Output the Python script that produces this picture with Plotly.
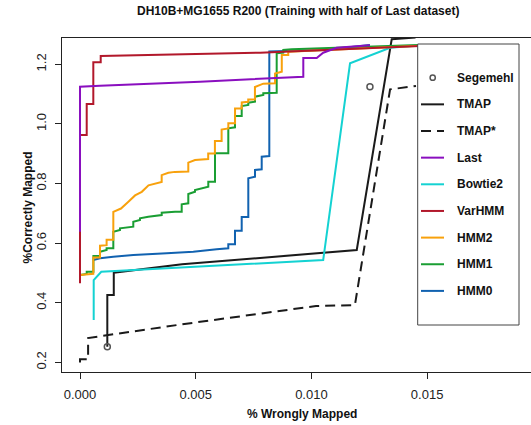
import plotly.graph_objects as go

# ---------------- data ----------------
seg_x = [0.00118, 0.01253]
seg_y = [0.2523, 1.1248]

tmap_x = [0.00118, 0.00118, 0.00146, 0.00146, 0.00441, 0.01196, 0.01347, 0.01450]
tmap_y = [0.2523, 0.4258, 0.4258, 0.5007, 0.5289, 0.5768, 1.284, 1.290]

tmaps_x = [0.0, 0.0, 0.00035, 0.00035, 0.00441, 0.00756, 0.0102, 0.01188, 0.0134, 0.01452]
tmaps_y = [0.199, 0.210, 0.210, 0.2815, 0.3275, 0.361, 0.389, 0.392, 1.116, 1.127]

last_x = [0.0, 0.0, 0.000864, 0.00519, 0.00965, 0.00965, 0.01023, 0.01051, 0.01109, 0.01253]
last_y = [0.638, 1.1248, 1.1282, 1.1416, 1.1584, 1.2211, 1.2211, 1.2389, 1.2557, 1.2638]

bowtie_x = [0.000592, 0.000592, 0.00092, 0.00432, 0.01051, 0.01167, 0.0134, 0.01433]
bowtie_y = [0.342, 0.476, 0.504, 0.5188, 0.5433, 1.2034, 1.2557, 1.2614]

var_x = [0.0, 0.0, 0.00029, 0.00029, 0.000575, 0.000575, 0.000895, 0.000895, 0.00778, 0.0147]
var_y = [0.465, 0.963, 0.963, 1.067, 1.067, 1.2067, 1.2067, 1.2279, 1.239, 1.2614]

hmm2_x = [0.0, 0.000575, 0.000575, 0.000864, 0.000864, 0.00115, 0.00115, 0.00144, 0.00144,
          0.00177, 0.00208, 0.00238, 0.00267, 0.00296, 0.00353, 0.00353, 0.00382, 0.00410,
          0.00468, 0.00468, 0.00497, 0.00554, 0.00554, 0.00583, 0.00583, 0.00612, 0.00612,
          0.00641, 0.00641, 0.00670, 0.00670, 0.00699, 0.00699, 0.00727, 0.00727, 0.00756,
          0.00756, 0.00792, 0.00843, 0.00843, 0.00872, 0.00872, 0.00900, 0.00900, 0.0147]
hmm2_y = [0.493, 0.497, 0.552, 0.552, 0.591, 0.593, 0.611, 0.611, 0.705,
          0.716, 0.738, 0.760, 0.772, 0.794, 0.805, 0.828, 0.836, 0.839,
          0.840, 0.870, 0.879, 0.882, 0.901, 0.901, 0.943, 0.943, 0.981,
          0.985, 1.002, 1.002, 1.052, 1.052, 1.072, 1.074, 1.082, 1.082,
          1.124, 1.135, 1.136, 1.169, 1.175, 1.231, 1.231, 1.242, 1.262]

hmm1_x = [0.0, 0.00029, 0.00029, 0.00058, 0.00058, 0.000864, 0.000864, 0.00115, 0.00115,
          0.00144, 0.00144, 0.001729, 0.001729, 0.002303, 0.002303, 0.002593, 0.002593,
          0.002952, 0.003531, 0.003531, 0.004105, 0.004395, 0.004395, 0.00468, 0.00468,
          0.00497, 0.00497, 0.005259, 0.005544, 0.005544, 0.005834, 0.005834, 0.006409,
          0.006409, 0.006698, 0.006698, 0.006988, 0.006988, 0.007273, 0.007273, 0.007563,
          0.007563, 0.007921, 0.007921, 0.0085, 0.0085, 0.008786, 0.008786, 0.009149, 0.01461]
hmm1_y = [0.493, 0.4963, 0.504, 0.504, 0.5567, 0.5567, 0.571, 0.577, 0.5826,
          0.5826, 0.6383, 0.644, 0.6497, 0.655, 0.6718, 0.6775, 0.6832,
          0.6886, 0.6943, 0.702, 0.7054, 0.7054, 0.7302, 0.7336, 0.7648,
          0.7725, 0.7782, 0.7839, 0.7893, 0.806, 0.806, 0.9013, 0.9013,
          0.9852, 0.9886, 1.0265, 1.0265, 1.06, 1.0634, 1.0711, 1.0745,
          1.0913, 1.097, 1.1027, 1.1047, 1.2369, 1.2389, 1.248, 1.2503, 1.265]

hmm0_x = [0.000575, 0.000864, 0.001439, 0.002303, 0.003747, 0.004896, 0.005907, 0.006409,
          0.006409, 0.006698, 0.006698, 0.006988, 0.006988, 0.007273, 0.007273, 0.007563,
          0.007563, 0.007852, 0.007852, 0.008181, 0.008181, 0.00994, 0.01051, 0.01253]
hmm0_y = [0.5433, 0.549, 0.5544, 0.56, 0.5658, 0.5711, 0.5792, 0.5826,
          0.596, 0.596, 0.6413, 0.6413, 0.6876, 0.6876, 0.8174, 0.8228,
          0.8453, 0.8477, 0.89, 0.8923, 1.243, 1.248, 1.248, 1.265]

x_ticks = [0.0, 0.005, 0.010, 0.015]
y_ticks = [0.2, 0.4, 0.6, 0.8, 1.0, 1.2]

legend_names = ["Segemehl", "TMAP", "TMAP*", "Last", "Bowtie2", "VarHMM", "HMM2", "HMM1", "HMM0"]

# ---------------- styles ----------------
C_BLACK = "#1a1a1a"
C_LAST = "#8a0fbf"
C_BOWTIE = "#14d2d2"
C_VAR = "#b2182b"
C_HMM2 = "#f8a10c"
C_HMM1 = "#1a9e33"
C_HMM0 = "#1162b0"
C_SEG = "#555555"
DASH = "10px,6px"
FONT = "Liberation Sans, Arial, sans-serif"

W, H = 531, 425
L, R, T, B = 62, 0, 38, 53
PW, PH = W - L - R, H - T - B

fig = go.Figure()

def add_line(x, y, color, dash="solid", width=2):
    fig.add_trace(go.Scatter(x=x, y=y, mode="lines", showlegend=False, hoverinfo="skip",
                             line=dict(color=color, width=width, dash=dash)))

add_line(tmaps_x, tmaps_y, C_BLACK, DASH)
add_line(tmap_x, tmap_y, C_BLACK)
add_line(bowtie_x, bowtie_y, C_BOWTIE)
add_line(hmm0_x, hmm0_y, C_HMM0)
add_line(hmm1_x, hmm1_y, C_HMM1)
add_line(hmm2_x, hmm2_y, C_HMM2)
add_line(var_x, var_y, C_VAR)
add_line(last_x, last_y, C_LAST)
fig.add_trace(go.Scatter(x=seg_x, y=seg_y, mode="markers", showlegend=False, hoverinfo="skip",
                         marker=dict(symbol="circle-open", size=6, color=C_SEG,
                                     line=dict(width=1.5, color=C_SEG))))

# ---------------- manual legend (R style box) ----------------
def px_to_paper_x(px):
    return (px - L) / PW

def px_to_paper_y(py):
    return (H - B - py) / PH

shapes = []
annotations = []
box_l, box_r, box_t, box_b = 417.7, 519, 44, 325
shapes.append(dict(type="rect", xref="paper", yref="paper", layer="above",
                   x0=px_to_paper_x(box_l), x1=px_to_paper_x(box_r),
                   y0=px_to_paper_y(box_b), y1=px_to_paper_y(box_t),
                   fillcolor="white", line=dict(color="#444444", width=1)))
entry_top, entry_step = 77.7, 26.65
legend_styles = [
    ("marker", C_SEG, "solid"),
    ("line", C_BLACK, "solid"),
    ("line", C_BLACK, DASH),
    ("line", C_LAST, "solid"),
    ("line", C_BOWTIE, "solid"),
    ("line", C_VAR, "solid"),
    ("line", C_HMM2, "solid"),
    ("line", C_HMM1, "solid"),
    ("line", C_HMM0, "solid"),
]
for i, (name, (kind, col, dsh)) in enumerate(zip(legend_names, legend_styles)):
    py = entry_top + i * entry_step
    yp = px_to_paper_y(py)
    if kind == "line":
        shapes.append(dict(type="line", xref="paper", yref="paper", layer="above",
                           x0=px_to_paper_x(421), x1=px_to_paper_x(444), y0=yp, y1=yp,
                           line=dict(color=col, width=2, dash=dsh)))
    else:
        shapes.append(dict(type="circle", xref="paper", yref="paper", layer="above",
                           xsizemode="pixel", ysizemode="pixel",
                           xanchor=px_to_paper_x(432.7), yanchor=yp,
                           x0=-2.6, x1=2.6, y0=-2.6, y1=2.6,
                           line=dict(color=col, width=1.5)))
    annotations.append(dict(xref="paper", yref="paper", x=px_to_paper_x(455), y=yp,
                            xanchor="left", yanchor="middle", showarrow=False,
                            text="<b>%s</b>" % name,
                            font=dict(family=FONT, size=12, color="#111111")))

# title and axis titles
annotations.append(dict(xref="paper", yref="paper", x=px_to_paper_x(297.5), y=px_to_paper_y(11.5),
                        xanchor="center", yanchor="middle", showarrow=False,
                        text="<b>DH10B+MG1655 R200 (Training with half of Last dataset)</b>",
                        font=dict(family=FONT, size=12, color="#111111")))
annotations.append(dict(xref="paper", yref="paper", x=px_to_paper_x(302), y=px_to_paper_y(414),
                        xanchor="center", yanchor="middle", showarrow=False,
                        text="<b>% Wrongly Mapped</b>",
                        font=dict(family=FONT, size=12, color="#111111")))
annotations.append(dict(xref="paper", yref="paper", x=px_to_paper_x(27.5), y=px_to_paper_y(208),
                        xanchor="center", yanchor="middle", showarrow=False, textangle=-90,
                        text="<b>%Correctly Mapped</b>",
                        font=dict(family=FONT, size=12, color="#111111")))

x_range = [(L - 80) / 23140, (W - R - 80) / 23140]
y_range = [0.2 - (H - B - 362.3) / 298, 0.2 + (362.3 - T) / 298]

fig.update_layout(
    width=W, height=H,
    margin=dict(l=L, r=R, t=T, b=B, pad=0),
    paper_bgcolor="white", plot_bgcolor="white",
    showlegend=False,
    shapes=shapes, annotations=annotations,
    xaxis=dict(range=x_range, tickvals=x_ticks, tickformat=".3f", showgrid=False, zeroline=False,
               showline=True, mirror=True, linecolor="#222222", linewidth=1,
               ticks="outside", ticklen=6, tickwidth=1, tickcolor="#222222",
               ticklabelstandoff=4,
               tickfont=dict(family=FONT, size=13, color="#222222")),
    yaxis=dict(range=y_range, tickvals=y_ticks, tickformat=".1f", showgrid=False, zeroline=False,
               showline=True, mirror=True, linecolor="#222222", linewidth=1,
               ticks="outside", ticklen=6, tickwidth=1, tickcolor="#222222",
               tickangle=-90, ticklabelstandoff=4,
               tickfont=dict(family=FONT, size=13, color="#222222")),
)

fig.write_html("out.html")
